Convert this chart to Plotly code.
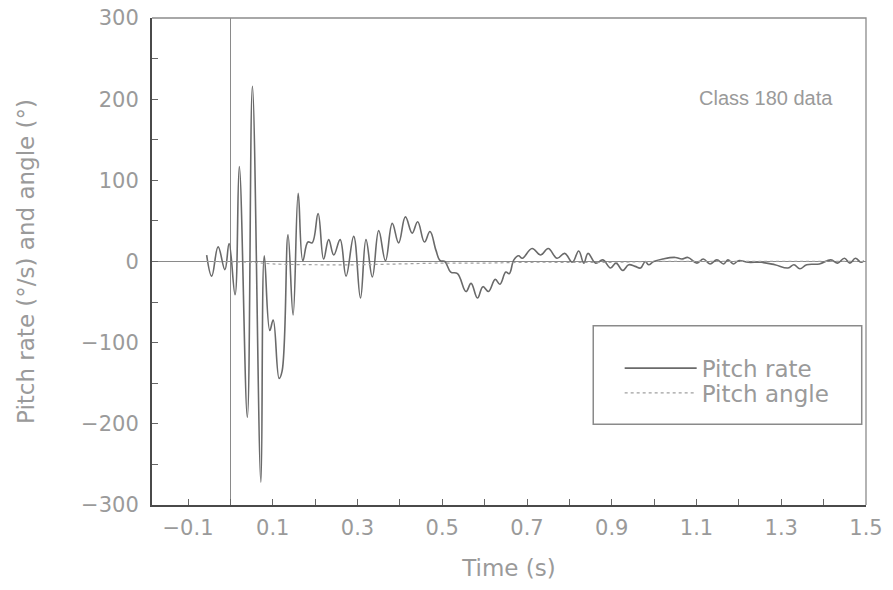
import plotly.graph_objects as go

# Pitch rate (deg/s) vs time (s)
rate_t = [-0.056, -0.044, -0.029, -0.013, -0.003, 0.011, 0.021, 0.040, 0.052, 0.072,
          0.080, 0.093, 0.101, 0.115, 0.122, 0.136, 0.148, 0.160, 0.171, 0.183,
          0.193, 0.207, 0.220, 0.232, 0.244, 0.259, 0.273, 0.291, 0.307, 0.320,
          0.335, 0.350, 0.366, 0.382, 0.397, 0.413, 0.429, 0.442, 0.458, 0.471,
          0.485, 0.495, 0.506, 0.520, 0.536, 0.556, 0.568, 0.583, 0.596, 0.609,
          0.625, 0.636, 0.650, 0.658, 0.669, 0.680, 0.689, 0.712, 0.732, 0.750,
          0.771, 0.789, 0.807, 0.822, 0.834, 0.844, 0.862, 0.879, 0.897, 0.910,
          0.926, 0.940, 0.955, 0.968, 0.979, 0.987, 0.999, 1.020, 1.050, 1.065,
          1.080, 1.101, 1.116, 1.132, 1.148, 1.164, 1.174, 1.187, 1.199, 1.222,
          1.253, 1.285, 1.316, 1.330, 1.344, 1.360, 1.390, 1.417, 1.433, 1.449,
          1.462, 1.475, 1.488, 1.495]
rate_v = [8, -18, 18, -10, 22, -41, 117, -192, 216, -272,
          7, -85, -72, -144, -135, 33, -66, 84, 1, 24,
          23, 59, 3, 27, 8, 27, -18, 31, -45, 27,
          -19, 38, 1, 47, 23, 55, 35, 49, 24, 37,
          14, 1, 0, -13, -15, -37, -27, -45, -31, -37,
          -22, -28, -13, -15, 2, 7, 4, 16, 8, 16,
          4, 10, -1, 13, -2, 10, -2, 2, -8, -2,
          -11, -4, -6, -8, 0, -4, 0, 3, 5, 3,
          5, -2, 3, -3, 2, -3, 2, -3, 1, -1,
          -1, -4, -8, -4, -9, -4, -3, 2, -2, 4,
          -2, 4, -1, 1]

# Pitch angle (deg) vs time (s)
angle_t = [-0.056, 0.05, 0.10, 0.20, 0.30, 0.40, 0.50, 0.60, 0.70, 0.80, 0.90, 1.00, 1.50]
angle_v = [0, -1, -3, -4, -4, -3, -2, -2, -1, -1, -1, 0, 0]

x_tick_vals = [-0.1, 0.1, 0.3, 0.5, 0.7, 0.9, 1.1, 1.3, 1.5]
x_tick_text = ["\u22120.1", "0.1", "0.3", "0.5", "0.7", "0.9", "1.1", "1.3", "1.5"]
y_tick_vals = [-300, -200, -100, 0, 100, 200, 300]

FONT = "Liberation Sans"
TFONT = "DejaVu Sans"
TXT = "#9a9a9a"

fig = go.Figure()
fig.add_trace(go.Scatter(x=rate_t, y=rate_v, mode="lines", name="Pitch rate", legend="legend",
                         line=dict(color="#6a6a6a", width=1.6, shape="spline", smoothing=1.15)))
fig.add_trace(go.Scatter(x=angle_t, y=angle_v, mode="lines", name="Pitch angle", legend="legend2",
                         line=dict(color="#a0a0a0", width=1.2, dash="dot", shape="spline")))

fig.add_annotation(x=1.265, y=201, xref="x", yref="y", text="Class 180 data",
                   showarrow=False, font=dict(family=FONT, size=20, color=TXT))

# legend frame
fig.add_shape(type="rect", xref="paper", yref="paper", x0=0.618, x1=0.994, y0=0.166, y1=0.368,
              line=dict(color="#8a8a8a", width=1.5), fillcolor="rgba(0,0,0,0)")
# lighter top and right frame edges
fig.add_shape(type="path", xref="paper", yref="paper", path="M 0,1 L 1,1 L 1,0",
              line=dict(color="#8c8c8c", width=1.3))

leg_common = dict(xanchor="left", yanchor="middle", bgcolor="rgba(0,0,0,0)", borderwidth=0,
                  font=dict(family=TFONT, size=23, color=TXT), itemwidth=72)

fig.update_layout(
    width=893, height=590,
    margin=dict(l=152, r=27, t=18, b=85),
    paper_bgcolor="white", plot_bgcolor="white",
    font=dict(family=FONT, size=20, color=TXT),
    showlegend=True,
    legend=dict(x=0.655, y=0.281, **leg_common),
    legend2=dict(x=0.655, y=0.230, **leg_common),
    xaxis=dict(range=[-0.185, 1.5], tickvals=x_tick_vals, ticktext=x_tick_text,
               ticks="inside", ticklen=6, tickcolor="#666", tickwidth=1,
               minor=dict(dtick=0.1, tick0=-0.1, ticks="inside", ticklen=6, tickcolor="#666"),
               showline=True, linecolor="#4a4a4a", linewidth=2, mirror=False,
               showgrid=False, zeroline=True, zerolinecolor="#8a8a8a", zerolinewidth=1.2,
               automargin=False, ticklabeloverflow="allow", ticklabelstandoff=3,
               title=dict(text="Time (s)", font=dict(family=TFONT, size=23, color=TXT), standoff=21),
               tickfont=dict(family=TFONT, size=21, color=TXT)),
    yaxis=dict(range=[-300, 300], tickvals=y_tick_vals,
               ticks="inside", ticklen=6, tickcolor="#666", tickwidth=1,
               minor=dict(dtick=50, tick0=0, ticks="inside", ticklen=6, tickcolor="#666"),
               showline=True, linecolor="#4a4a4a", linewidth=2, mirror=False,
               showgrid=False, zeroline=True, zerolinecolor="#8a8a8a", zerolinewidth=1.2,
               ticklabelstandoff=7, automargin=False, ticklabeloverflow="allow",
               title=dict(text="Pitch rate (°/s) and angle (°)",
                          font=dict(family=TFONT, size=23, color=TXT), standoff=40),
               tickfont=dict(family=TFONT, size=21, color=TXT)),
)

fig.write_html("out.html", config={"displayModeBar": False},
               post_script="document.body.style.margin='0';document.body.style.overflow='hidden';")
